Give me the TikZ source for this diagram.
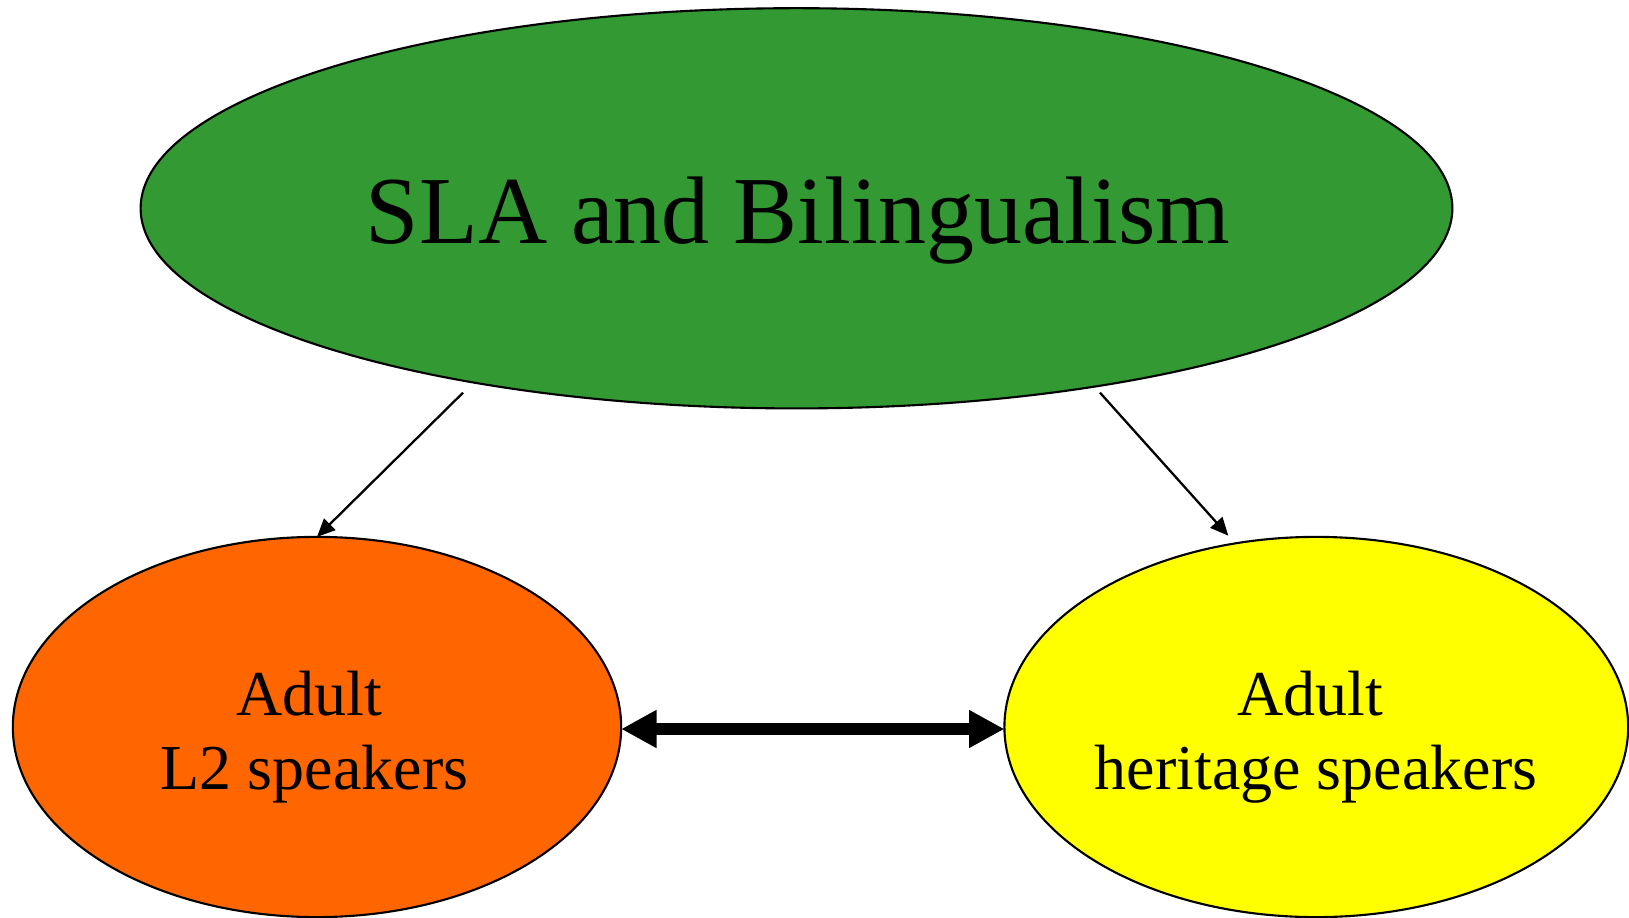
\documentclass[tikz,border=0pt]{standalone}
\usepackage{fontspec}
\setmainfont{Liberation Serif}
\usetikzlibrary{shapes.geometric,arrows.meta}
\definecolor{slagreen}{HTML}{339933}
\definecolor{l2orange}{HTML}{FF6600}
\definecolor{hsyellow}{HTML}{FFFF00}
\tikzset{
  bubble/.style={ellipse, draw=black, line width=0.6pt, inner sep=0pt, outer sep=0pt},
  bigtext/.style={font=\fontsize{27.3}{32}\selectfont, inner sep=0pt, anchor=base},
  smalltext/.style={font=\fontsize{18.2}{21}\selectfont, inner sep=0pt, anchor=base},
  thinarrow/.style={line width=0.65pt, -{Triangle[length=0.18cm,width=0.16cm]}},
  bothways/.style={line width=3.5pt, {Triangle[length=0.354cm,width=0.356cm]}-{Triangle[length=0.354cm,width=0.356cm]}}
}
\begin{document}
\begin{tikzpicture}[x=0.01cm,y=-0.01cm]
\useasboundingbox (0,0) rectangle (1629,918);
\node[bubble, fill=slagreen, minimum width=13.11cm, minimum height=4.0cm] (g) at (796.5,208.3) {};
\node[bubble, fill=l2orange, minimum width=6.08cm, minimum height=3.8cm] (l) at (317,727) {};
\node[bubble, fill=hsyellow, minimum width=6.234cm, minimum height=3.8cm] (h) at (1316.3,727) {};
\node[bigtext] (gt) at (798,243) {SLA and Bilingualism};
\node[smalltext] (lt1) at (309,715) {Adult};
\node[smalltext] (lt2) at (314.5,789) {L2 speakers};
\node[smalltext] (ht1) at (1310,715) {Adult};
\node[smalltext] (ht2) at (1316,789) {heritage speakers};
\coordinate (s1) at (463,392.7);
\coordinate (s2) at (1100,392.7);
\coordinate (e2) at (1228.3,535.7);
\draw[thinarrow] (s1) -- (l.north);
\draw[thinarrow] (s2) -- (e2);
\draw[bothways] ([yshift=-0.02cm]l.east) -- ([yshift=-0.02cm]h.west);
\end{tikzpicture}
\end{document}
